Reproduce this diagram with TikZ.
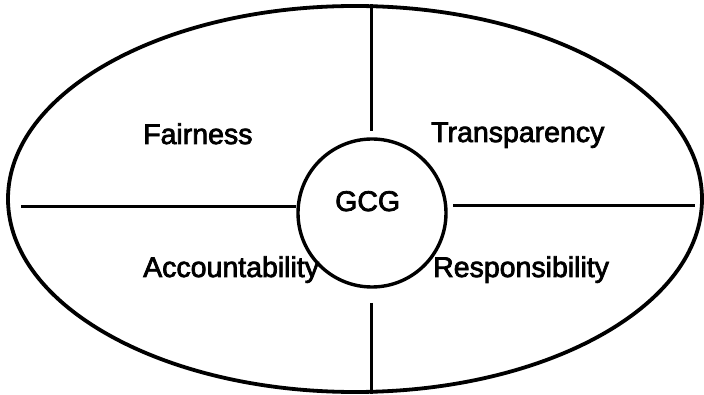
\documentclass[tikz,border=0pt]{standalone}
\usepackage{fontspec}
\setmainfont{Liberation Sans}
\newfontfamily\lblfont[FakeBold=2.6]{Liberation Sans}
\usetikzlibrary{shapes.geometric}
\begin{document}
\begin{tikzpicture}[x=1pt,y=-1pt,
  divline/.style={line width=3pt},
  lbl/.style={inner sep=0pt,anchor=base west,font=\lblfont\fontsize{28.5}{30}\selectfont}]
\useasboundingbox (0,0) rectangle (704,395);
\node[ellipse,draw,line width=3.8pt,minimum width=694pt,minimum height=386pt,inner sep=0pt] (outer) at (355,199) {};
\node[circle,draw,line width=3.4pt,minimum size=148pt,inner sep=0pt] (gcg) at (372,213) {};
\node[lbl] (gcgt) at (335,211) {GCG};
\node[lbl] (fair) at (143,144) {Fairness};
\node[lbl] (trans) at (431,142) {Transparency};
\node[lbl] (acc) at (143,277) {Accountability};
\node[lbl] (resp) at (433,277) {Responsibility};
\coordinate (Ls) at (21,207);
\coordinate (Rs) at (453,206);
\coordinate (Re) at (695,206);
\coordinate (Te) at (371,131);
\coordinate (Bs) at (371,303);
\draw[divline] (Ls) -- (Ls -| gcg.west);
\draw[divline] (Rs) -- (Re);
\draw[divline] (Te |- outer.north) -- (Te);
\draw[divline] (Bs) -- (Bs |- outer.south);
\end{tikzpicture}
\end{document}
